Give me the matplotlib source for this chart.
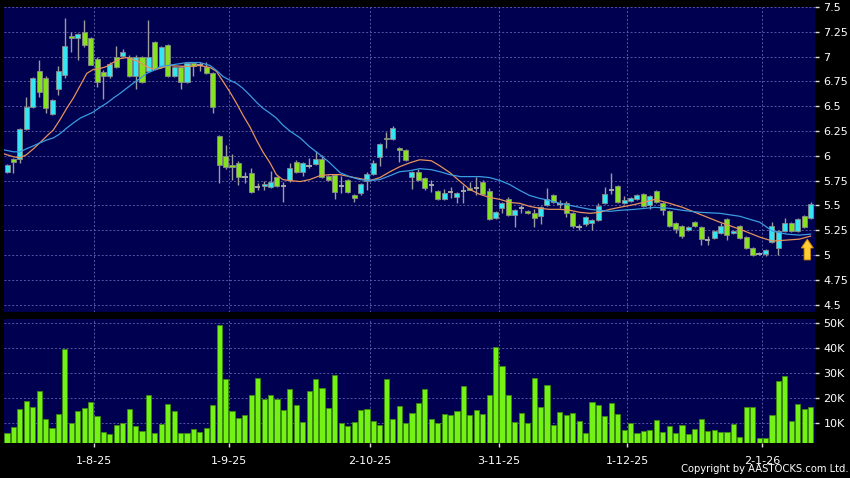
import numpy as np
import matplotlib.pyplot as plt

# daily OHLC (HKD), Jul-2025 .. Jan-2026
opens = [5.84, 5.97, 5.97, 6.27, 6.49, 6.85, 6.78, 6.42, 6.67, 6.81,
         7.21, 7.19, 7.25, 7.19, 6.98, 6.84, 6.80, 7.00, 7.01, 7.00,
         6.80, 7.00, 6.85, 7.15, 6.90, 7.12, 6.80, 6.90, 6.74, 6.94,
         6.92, 6.90, 6.83, 6.20, 6.00, 5.91, 5.93, 5.79, 5.83, 5.69,
         5.70, 5.69, 5.79, 5.70, 5.76, 5.94, 5.84, 5.90, 5.92, 5.97,
         5.80, 5.81, 5.70, 5.76, 5.60, 5.62, 5.75, 5.82, 5.99, 6.18,
         6.17, 6.08, 6.06, 5.79, 5.84, 5.78, 5.71, 5.64, 5.56, 5.63,
         5.58, 5.64, 5.68, 5.68, 5.74, 5.64, 5.37, 5.47, 5.56, 5.40,
         5.47, 5.44, 5.42, 5.39, 5.50, 5.60, 5.51, 5.52, 5.42, 5.28,
         5.31, 5.32, 5.35, 5.52, 5.66, 5.70, 5.52, 5.54, 5.56, 5.61,
         5.50, 5.64, 5.52, 5.44, 5.32, 5.29, 5.25, 5.33, 5.28, 5.15,
         5.17, 5.22, 5.36, 5.22, 5.29, 5.18, 5.07, 5.01, 5.01, 5.13,
         5.07, 5.24, 5.32, 5.24, 5.39, 5.37]
closes = [5.91, 5.94, 6.27, 6.49, 6.78, 6.64, 6.48, 6.56, 6.85, 7.11,
          7.19, 7.23, 7.12, 6.92, 6.74, 6.80, 6.93, 6.90, 7.05, 6.80,
          7.00, 6.74, 7.00, 6.87, 7.10, 6.80, 6.90, 6.74, 6.94, 6.91,
          6.92, 6.83, 6.49, 5.91, 5.89, 5.89, 5.79, 5.79, 5.63, 5.69,
          5.72, 5.74, 5.70, 5.70, 5.88, 5.84, 5.93, 5.90, 5.97, 5.79,
          5.76, 5.63, 5.70, 5.63, 5.57, 5.72, 5.82, 5.93, 6.12, 6.17,
          6.28, 6.06, 5.96, 5.84, 5.76, 5.68, 5.71, 5.56, 5.62, 5.63,
          5.62, 5.64, 5.66, 5.68, 5.61, 5.36, 5.43, 5.52, 5.40, 5.45,
          5.47, 5.42, 5.37, 5.48, 5.56, 5.53, 5.51, 5.42, 5.29, 5.28,
          5.38, 5.35, 5.49, 5.61, 5.66, 5.53, 5.55, 5.57, 5.60, 5.49,
          5.59, 5.53, 5.45, 5.29, 5.26, 5.19, 5.28, 5.29, 5.16, 5.15,
          5.24, 5.29, 5.20, 5.24, 5.17, 5.07, 5.00, 5.01, 5.05, 5.29,
          5.24, 5.32, 5.24, 5.36, 5.28, 5.51]
highs = [5.92, 5.98, 6.28, 6.59, 6.79, 6.97, 6.80, 6.57, 6.91, 7.39,
         7.25, 7.24, 7.37, 7.20, 7.00, 6.86, 6.95, 7.11, 7.08, 7.02,
         7.02, 7.01, 7.37, 7.16, 7.11, 7.13, 6.91, 6.91, 6.95, 6.95,
         6.95, 6.95, 6.84, 6.21, 6.11, 6.02, 5.95, 5.84, 5.88, 5.73,
         5.75, 5.85, 5.80, 5.74, 5.93, 5.96, 5.94, 5.98, 6.05, 6.01,
         5.81, 5.82, 5.80, 5.77, 5.61, 5.73, 5.84, 5.96, 6.13, 6.24,
         6.30, 6.09, 6.07, 5.85, 5.87, 5.79, 5.76, 5.65, 5.67, 5.69,
         5.63, 5.71, 5.74, 5.79, 5.76, 5.68, 5.44, 5.53, 5.58, 5.46,
         5.50, 5.45, 5.46, 5.49, 5.68, 5.61, 5.55, 5.54, 5.43, 5.31,
         5.39, 5.36, 5.52, 5.69, 5.83, 5.71, 5.59, 5.58, 5.61, 5.62,
         5.60, 5.65, 5.53, 5.45, 5.33, 5.30, 5.29, 5.34, 5.29, 5.19,
         5.25, 5.32, 5.37, 5.25, 5.30, 5.19, 5.08, 5.03, 5.06, 5.33,
         5.25, 5.37, 5.33, 5.37, 5.40, 5.53]
lows = [5.83, 5.83, 5.93, 6.26, 6.48, 6.59, 6.43, 6.41, 6.61, 6.78,
        7.05, 6.97, 7.10, 6.92, 6.69, 6.57, 6.78, 6.89, 7.00, 6.79,
        6.67, 6.73, 6.84, 6.86, 6.89, 6.79, 6.79, 6.67, 6.73, 6.80,
        6.85, 6.82, 6.43, 5.73, 5.87, 5.76, 5.71, 5.73, 5.62, 5.65,
        5.66, 5.68, 5.69, 5.53, 5.74, 5.83, 5.80, 5.88, 5.91, 5.78,
        5.75, 5.56, 5.62, 5.62, 5.53, 5.60, 5.66, 5.81, 5.90, 6.08,
        6.16, 5.94, 5.95, 5.67, 5.75, 5.65, 5.63, 5.55, 5.55, 5.57,
        5.52, 5.52, 5.65, 5.60, 5.60, 5.35, 5.36, 5.42, 5.39, 5.28,
        5.42, 5.41, 5.28, 5.31, 5.49, 5.52, 5.47, 5.38, 5.27, 5.25,
        5.29, 5.25, 5.34, 5.51, 5.61, 5.52, 5.51, 5.53, 5.55, 5.48,
        5.46, 5.52, 5.40, 5.28, 5.22, 5.17, 5.24, 5.28, 5.10, 5.10,
        5.16, 5.21, 5.15, 5.21, 5.16, 5.06, 4.99, 5.00, 4.99, 5.12,
        5.00, 5.23, 5.23, 5.23, 5.27, 5.36]
# volume in thousands of shares
volumes = [5.9, 8.3, 15.5, 18.8, 16.3, 22.8, 11.7, 8.0, 13.5, 39.7,
           10.0, 14.7, 16.1, 18.4, 12.8, 6.4, 5.6, 9.3, 9.9, 15.7,
           8.8, 6.7, 21.3, 6.1, 9.6, 17.5, 14.7, 6.0, 5.9, 7.6,
           6.3, 8.1, 17.2, 49.3, 27.6, 14.7, 11.9, 13.1, 21.2, 28.1,
           19.7, 21.1, 19.7, 15.2, 23.6, 17.3, 10.4, 22.7, 27.6, 24.0,
           16.0, 29.2, 10.1, 8.7, 10.3, 15.2, 15.6, 10.7, 9.3, 27.6,
           11.5, 16.7, 10.0, 14.0, 17.9, 23.6, 11.6, 9.9, 13.7, 13.3,
           14.9, 24.8, 13.2, 15.2, 13.5, 21.1, 40.4, 32.7, 21.2, 10.3,
           13.9, 10.0, 28.1, 16.3, 25.2, 9.1, 14.5, 13.1, 14.0, 10.8,
           6.0, 18.3, 17.2, 12.7, 18.1, 13.6, 7.1, 10.0, 5.9, 6.7,
           7.2, 11.2, 6.5, 8.8, 6.1, 9.1, 5.6, 7.7, 11.6, 6.8,
           7.1, 6.4, 6.5, 9.6, 4.3, 16.4, 16.4, 4.1, 4.1, 13.1,
           26.9, 28.9, 10.9, 17.5, 15.7, 16.4]

# moving averages sampled along the curves (x = trading-day index)
ma10_x = [-0.5, 1, 2, 3, 4.1, 5.1, 6.2, 7.2, 8.2, 9.3, 10.3, 11.4, 12.4, 13.4,
          14.5, 15.5, 16.5, 17.6, 18.6, 19.6, 20.7, 21.7, 22.8, 23.8, 25, 28,
          30, 31.6, 32.6, 33.6, 34.7, 35.7, 36.7, 37.8, 38.8, 39.8, 40.9, 41.9,
          42.9, 44, 45.6, 47.1, 48.7, 50.2, 51.8, 53.3, 54.9, 56.5, 58, 59.6,
          61.1, 62.7, 64.2, 66, 67.3, 68.9, 70.5, 72, 73.6, 75.1, 76.7, 78.2,
          79.8, 81.3, 82.9, 84.4, 86, 87.6, 89.1, 90.7, 92.2, 93.8, 95.3, 97.7,
          100.8, 103.1, 105.1, 107.8, 110.9, 114, 117.1, 119.1, 121.3, 123.3,
          125]
ma10 = [6.02, 5.99, 5.98, 6.01, 6.07, 6.13, 6.20, 6.26, 6.36, 6.48, 6.58, 6.71,
        6.83, 6.87, 6.88, 6.90, 6.94, 6.98, 6.99, 6.97, 6.94, 6.90, 6.87, 6.88,
        6.91, 6.90, 6.91, 6.89, 6.85, 6.75, 6.64, 6.53, 6.41, 6.29, 6.16, 6.04,
        5.93, 5.81, 5.76, 5.75, 5.74, 5.76, 5.80, 5.81, 5.81, 5.79, 5.77, 5.75,
        5.78, 5.84, 5.89, 5.93, 5.96, 5.95, 5.90, 5.83, 5.74, 5.66, 5.61, 5.58,
        5.56, 5.53, 5.52, 5.49, 5.47, 5.46, 5.46, 5.45, 5.43, 5.42, 5.43, 5.46,
        5.48, 5.51, 5.56, 5.52, 5.48, 5.41, 5.33, 5.26, 5.18, 5.14, 5.15, 5.16,
        5.19]
ma20_x = [-0.5, 1, 2, 3, 4.1, 5.1, 6.2, 7.2, 8.2, 9.3, 10.3, 11.4, 12.4, 13.4,
          14.5, 15.5, 16.5, 17.6, 18.6, 19.6, 20.7, 21.7, 22.8, 23.8, 25, 28,
          30, 31.6, 32.6, 33.6, 34.7, 35.7, 36.7, 37.8, 38.8, 39.8, 40.9, 41.9,
          42.9, 44, 45.6, 47.1, 48.7, 50.2, 51.8, 53.3, 54.9, 56.5, 58, 59.6,
          61.1, 62.7, 64.2, 66, 67.3, 68.9, 70.5, 72, 73.6, 75.1, 76.7, 78.2,
          79.8, 81.3, 82.9, 84.4, 86, 87.6, 89.1, 90.7, 92.2, 93.8, 95.3, 97.7,
          100.8, 103.1, 105.1, 107.8, 110.9, 114, 117.1, 119.1, 121.3, 123.3,
          125]
ma20 = [6.06, 6.04, 6.04, 6.07, 6.10, 6.13, 6.16, 6.18, 6.22, 6.28, 6.33, 6.38,
        6.41, 6.44, 6.49, 6.53, 6.58, 6.63, 6.68, 6.73, 6.78, 6.83, 6.86, 6.90,
        6.91, 6.94, 6.94, 6.91, 6.86, 6.80, 6.76, 6.73, 6.68, 6.61, 6.54, 6.48,
        6.43, 6.38, 6.31, 6.25, 6.18, 6.09, 6.01, 5.93, 5.83, 5.79, 5.76, 5.75,
        5.76, 5.80, 5.84, 5.85, 5.87, 5.86, 5.84, 5.81, 5.79, 5.79, 5.79, 5.78,
        5.75, 5.71, 5.65, 5.60, 5.57, 5.55, 5.52, 5.50, 5.48, 5.46, 5.45, 5.44,
        5.45, 5.46, 5.48, 5.47, 5.45, 5.43, 5.42, 5.39, 5.33, 5.24, 5.21, 5.20,
        5.21]

month_pos = [13.5, 34.5, 56.5, 76.5, 96.5, 117.5]
month_labels = ["1-8-25", "1-9-25", "2-10-25", "3-11-25", "1-12-25", "2-1-26"]

NAVY = "#000050"
GRID = "#5858a0"
UP = "#33e6f2"
DOWN = "#86e21e"

o = np.array(opens)
c = np.array(closes)
h = np.array(highs)
l = np.array(lows)
idx = np.arange(len(o))

fig = plt.figure(figsize=(8.5, 4.78), dpi=100, facecolor="black")
ax = fig.add_axes([4 / 850, 1 - 312 / 478, 811 / 850, 305 / 478], facecolor=NAVY)
axv = fig.add_axes([4 / 850, 1 - 443 / 478, 811 / 850, 124 / 478], facecolor=NAVY, sharex=ax)

# candles
up = c > o
dn = c < o
flat = c == o
ax.vlines(idx, l, h, color="#9c9c9c", lw=1, zorder=2)
ax.bar(idx[up], (c - o)[up], bottom=o[up], width=0.78, color=UP,
       edgecolor="#8a8a8a", lw=0.6, zorder=3)
ax.bar(idx[dn], (o - c)[dn], bottom=c[dn], width=0.78, color=DOWN,
       edgecolor="#8a8a8a", lw=0.6, zorder=3)
ax.hlines(o[flat], idx[flat] - 0.42, idx[flat] + 0.42, color="#a8a8a8", lw=1.4, zorder=3)

ax.plot(ma10_x, ma10, color="#e8925a", lw=0.9, zorder=4)
ax.plot(ma20_x, ma20, color="#3a9ce0", lw=0.9, zorder=4)

ax.arrow(124.5, 4.95, 0, 0.21, width=1.0, head_width=1.9, head_length=0.09,
         length_includes_head=True, fc="#ffcc33", ec="#c88400", lw=0.6, zorder=5)

ax.set_xlim(-0.47, 125.7)
ax.set_ylim(4.425, 7.5)
ax.set_yticks(np.arange(4.5, 7.51, 0.25))
ax.yaxis.set_major_formatter(plt.FuncFormatter(lambda v, p: "%g" % round(v, 2)))

# volume
axv.bar(idx, np.array(volumes) * 1000, width=0.8, color="#74f216",
        edgecolor="#3c8a10", lw=0.6, zorder=3)
axv.set_ylim(2000, 51600)
axv.set_yticks([10000, 20000, 30000, 40000, 50000])
axv.set_yticklabels(["10K", "20K", "30K", "40K", "50K"])
axv.set_xticks(month_pos)
axv.set_xticklabels(month_labels)

for a in (ax, axv):
    for s in a.spines.values():
        s.set_visible(False)
    a.yaxis.tick_right()
    a.grid(True, color=GRID, ls=(0, (2, 2)), lw=0.7)
    a.set_axisbelow(True)
    a.tick_params(axis="y", colors="#dddddd", labelcolor="white", length=3,
                  width=1, pad=3, labelsize=8)

ax.tick_params(axis="x", bottom=False, labelbottom=False)
axv.tick_params(axis="x", colors="#dddddd", labelcolor="white", length=3,
                width=1, pad=6, labelsize=8)

fig.text(0.998, 0.008, "Copyright by AASTOCKS.com Ltd.", ha="right", va="bottom",
         color="white", fontsize=8, fontstretch="condensed", family="DejaVu Sans")

fig.savefig("out.png", dpi=100, facecolor="black")
